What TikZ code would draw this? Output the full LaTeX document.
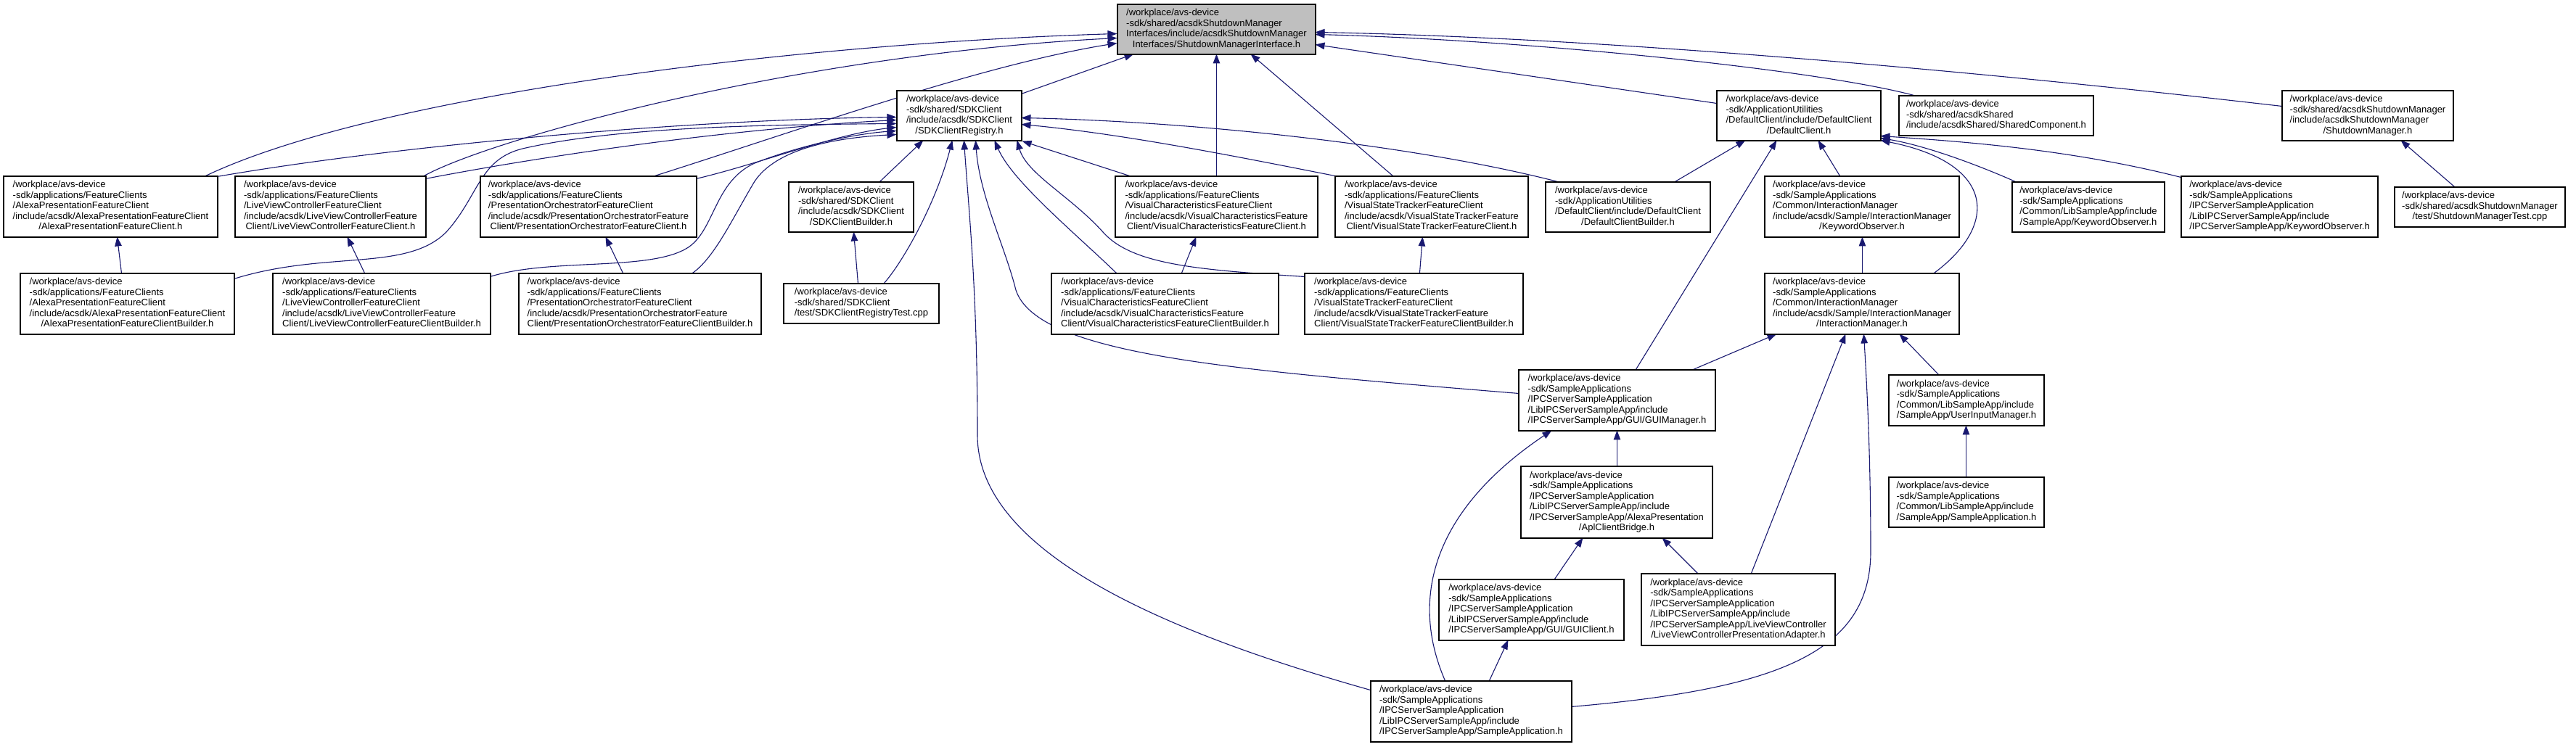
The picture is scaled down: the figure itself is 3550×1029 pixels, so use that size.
\documentclass[tikz,border=0pt]{standalone}
\usepackage{fontspec}
\setmainfont{Liberation Sans}
\usetikzlibrary{arrows.meta}
\pgfdeclarelayer{bg}
\pgfsetlayers{bg,main}
\definecolor{edgeblue}{HTML}{191970}
\definecolor{rootgray}{HTML}{BFBFBF}
\newcommand{\ctrline}[1]{\multicolumn{1}{@{}c@{}}{#1}}
\newcommand{\flines}[1]{\begin{tabular}{@{}l@{}}#1\end{tabular}}
\begin{document}
\begin{tikzpicture}[x=1pt,y=-1pt,
  filebox/.style={draw=black,line width=1.1pt,fill=white,inner sep=0pt,font=\fontsize{13}{14.5}\selectfont},
  incl/.style={draw=edgeblue,line width=1.1pt,-{Triangle[length=13pt,width=9.5pt]}}]
\useasboundingbox (0,0) rectangle (3550,1029);
% ---------------- nodes ----------------
\node[filebox,fill=rootgray,minimum width=273,minimum height=69] (T) at (1676.5,40.5) {\flines{/workplace/avs-device\\-sdk/shared/acsdkShutdownManager\\Interfaces/include/acsdkShutdownManager\\\ctrline{Interfaces/ShutdownManagerInterface.h}}};
\node[filebox,minimum width=172,minimum height=69] (R) at (1322,159.5) {\flines{/workplace/avs-device\\-sdk/shared/SDKClient\\/include/acsdk/SDKClient\\\ctrline{/SDKClientRegistry.h}}};
\node[filebox,minimum width=226,minimum height=69] (DC) at (2479,159.5) {\flines{/workplace/avs-device\\-sdk/ApplicationUtilities\\/DefaultClient/include/DefaultClient\\\ctrline{/DefaultClient.h}}};
\node[filebox,minimum width=268,minimum height=55] (SC) at (2751,159.5) {\flines{/workplace/avs-device\\-sdk/shared/acsdkShared\\\ctrline{/include/acsdkShared/SharedComponent.h}}};
\node[filebox,minimum width=236,minimum height=69] (SM) at (3263,159.5) {\flines{/workplace/avs-device\\-sdk/shared/acsdkShutdownManager\\/include/acsdkShutdownManager\\\ctrline{/ShutdownManager.h}}};
\node[filebox,minimum width=295,minimum height=84] (AFC) at (152.5,285) {\flines{/workplace/avs-device\\-sdk/applications/FeatureClients\\/AlexaPresentationFeatureClient\\/include/acsdk/AlexaPresentationFeatureClient\\\ctrline{/AlexaPresentationFeatureClient.h}}};
\node[filebox,minimum width=263,minimum height=84] (LFC) at (455.5,285) {\flines{/workplace/avs-device\\-sdk/applications/FeatureClients\\/LiveViewControllerFeatureClient\\/include/acsdk/LiveViewControllerFeature\\\ctrline{Client/LiveViewControllerFeatureClient.h}}};
\node[filebox,minimum width=298,minimum height=84] (PFC) at (811,285) {\flines{/workplace/avs-device\\-sdk/applications/FeatureClients\\/PresentationOrchestratorFeatureClient\\/include/acsdk/PresentationOrchestratorFeature\\\ctrline{Client/PresentationOrchestratorFeatureClient.h}}};
\node[filebox,minimum width=172,minimum height=69] (SB) at (1173,285.5) {\flines{/workplace/avs-device\\-sdk/shared/SDKClient\\/include/acsdk/SDKClient\\\ctrline{/SDKClientBuilder.h}}};
\node[filebox,minimum width=279,minimum height=84] (VCF) at (1676.5,285) {\flines{/workplace/avs-device\\-sdk/applications/FeatureClients\\/VisualCharacteristicsFeatureClient\\/include/acsdk/VisualCharacteristicsFeature\\\ctrline{Client/VisualCharacteristicsFeatureClient.h}}};
\node[filebox,minimum width=266,minimum height=84] (VSF) at (1973,285) {\flines{/workplace/avs-device\\-sdk/applications/FeatureClients\\/VisualStateTrackerFeatureClient\\/include/acsdk/VisualStateTrackerFeature\\\ctrline{Client/VisualStateTrackerFeatureClient.h}}};
\node[filebox,minimum width=227,minimum height=69] (DCB) at (2243.5,285.5) {\flines{/workplace/avs-device\\-sdk/ApplicationUtilities\\/DefaultClient/include/DefaultClient\\\ctrline{/DefaultClientBuilder.h}}};
\node[filebox,minimum width=268,minimum height=84] (KOI) at (2566,285) {\flines{/workplace/avs-device\\-sdk/SampleApplications\\/Common/InteractionManager\\/include/acsdk/Sample/InteractionManager\\\ctrline{/KeywordObserver.h}}};
\node[filebox,minimum width=210,minimum height=69] (KOL) at (2878,285.5) {\flines{/workplace/avs-device\\-sdk/SampleApplications\\/Common/LibSampleApp/include\\\ctrline{/SampleApp/KeywordObserver.h}}};
\node[filebox,minimum width=271,minimum height=84] (KOP) at (3141.5,285) {\flines{/workplace/avs-device\\-sdk/SampleApplications\\/IPCServerSampleApplication\\/LibIPCServerSampleApp/include\\\ctrline{/IPCServerSampleApp/KeywordObserver.h}}};
\node[filebox,minimum width=235,minimum height=55] (SMT) at (3417.5,285.5) {\flines{/workplace/avs-device\\-sdk/shared/acsdkShutdownManager\\\ctrline{/test/ShutdownManagerTest.cpp}}};
\node[filebox,minimum width=295,minimum height=84] (AFB) at (175.5,419) {\flines{/workplace/avs-device\\-sdk/applications/FeatureClients\\/AlexaPresentationFeatureClient\\/include/acsdk/AlexaPresentationFeatureClient\\\ctrline{/AlexaPresentationFeatureClientBuilder.h}}};
\node[filebox,minimum width=300,minimum height=84] (LFB) at (526,419) {\flines{/workplace/avs-device\\-sdk/applications/FeatureClients\\/LiveViewControllerFeatureClient\\/include/acsdk/LiveViewControllerFeature\\\ctrline{Client/LiveViewControllerFeatureClientBuilder.h}}};
\node[filebox,minimum width=334,minimum height=84] (PFB) at (882,419) {\flines{/workplace/avs-device\\-sdk/applications/FeatureClients\\/PresentationOrchestratorFeatureClient\\/include/acsdk/PresentationOrchestratorFeature\\\ctrline{Client/PresentationOrchestratorFeatureClientBuilder.h}}};
\node[filebox,minimum width=214,minimum height=55] (RT) at (1187,418.5) {\flines{/workplace/avs-device\\-sdk/shared/SDKClient\\\ctrline{/test/SDKClientRegistryTest.cpp}}};
\node[filebox,minimum width=313,minimum height=84] (VCB) at (1605.5,419) {\flines{/workplace/avs-device\\-sdk/applications/FeatureClients\\/VisualCharacteristicsFeatureClient\\/include/acsdk/VisualCharacteristicsFeature\\\ctrline{Client/VisualCharacteristicsFeatureClientBuilder.h}}};
\node[filebox,minimum width=301,minimum height=84] (VSB) at (1948.5,419) {\flines{/workplace/avs-device\\-sdk/applications/FeatureClients\\/VisualStateTrackerFeatureClient\\/include/acsdk/VisualStateTrackerFeature\\\ctrline{Client/VisualStateTrackerFeatureClientBuilder.h}}};
\node[filebox,minimum width=268,minimum height=84] (IM) at (2566,419) {\flines{/workplace/avs-device\\-sdk/SampleApplications\\/Common/InteractionManager\\/include/acsdk/Sample/InteractionManager\\\ctrline{/InteractionManager.h}}};
\node[filebox,minimum width=271,minimum height=84] (GM) at (2228.5,552) {\flines{/workplace/avs-device\\-sdk/SampleApplications\\/IPCServerSampleApplication\\/LibIPCServerSampleApp/include\\\ctrline{/IPCServerSampleApp/GUI/GUIManager.h}}};
\node[filebox,minimum width=214,minimum height=70] (UIM) at (2710,552) {\flines{/workplace/avs-device\\-sdk/SampleApplications\\/Common/LibSampleApp/include\\\ctrline{/SampleApp/UserInputManager.h}}};
\node[filebox,minimum width=214,minimum height=69] (LSA) at (2710,692.5) {\flines{/workplace/avs-device\\-sdk/SampleApplications\\/Common/LibSampleApp/include\\\ctrline{/SampleApp/SampleApplication.h}}};
\node[filebox,minimum width=264,minimum height=99] (AB) at (2228,692.5) {\flines{/workplace/avs-device\\-sdk/SampleApplications\\/IPCServerSampleApplication\\/LibIPCServerSampleApp/include\\/IPCServerSampleApp/AlexaPresentation\\\ctrline{/AplClientBridge.h}}};
\node[filebox,minimum width=255,minimum height=84] (GC) at (2110.5,841) {\flines{/workplace/avs-device\\-sdk/SampleApplications\\/IPCServerSampleApplication\\/LibIPCServerSampleApp/include\\\ctrline{/IPCServerSampleApp/GUI/GUIClient.h}}};
\node[filebox,minimum width=267,minimum height=99] (LVA) at (2395.5,840.5) {\flines{/workplace/avs-device\\-sdk/SampleApplications\\/IPCServerSampleApplication\\/LibIPCServerSampleApp/include\\/IPCServerSampleApp/LiveViewController\\\ctrline{/LiveViewControllerPresentationAdapter.h}}};
\node[filebox,minimum width=277,minimum height=84] (SA) at (2027.5,981) {\flines{/workplace/avs-device\\-sdk/SampleApplications\\/IPCServerSampleApplication\\/LibIPCServerSampleApp/include\\\ctrline{/IPCServerSampleApp/SampleApplication.h}}};
% ---------------- edges ----------------
\begin{pgfonlayer}{bg}
\fill[white] (0,0) rectangle (3550,1029);
% into T
\draw[incl] ([shift={(279,0)}]AFC.north west) .. controls (520,130) and (1100,60) .. ([shift={(0,41)}]T.north west);
\draw[incl] ([shift={(261,0)}]LFC.north west) .. controls (680,190) and (1100,75) .. ([shift={(0,47)}]T.north west);
\draw[incl] ([shift={(241,0)}]PFC.north west) .. controls (1100,180) and (1350,90) .. ([shift={(0,54)}]T.north west);
\draw[incl] ([shift={(172,5)}]R.north west) -- ([shift={(23,69)}]T.north west);
\draw[incl] ([shift={(140,0)}]VCF.north west) -- ([shift={(137,69)}]T.north west);
\draw[incl] ([shift={(80,0)}]VSF.north west) -- ([shift={(184,69)}]T.north west);
\draw[incl] ([shift={(0,18)}]DC.north west) -- ([shift={(273,56)}]T.north west);
\draw[incl] ([shift={(21,0)}]SC.north west) .. controls (2500,95) and (2100,55) .. ([shift={(273,42)}]T.north west);
\draw[incl] ([shift={(0,22)}]SM.north west) .. controls (2700,95) and (2200,52) .. ([shift={(273,39)}]T.north west);
% into R
\draw[incl] ([shift={(295,1)}]AFC.north west) .. controls (550,200) and (950,165) .. ([shift={(0,37)}]R.north west);
\draw[incl] ([shift={(263,4)}]LFC.north west) .. controls (750,215) and (1000,178) .. ([shift={(0,41)}]R.north west);
\draw[incl] ([shift={(295,8)}]AFB.north west) .. controls (450,345) and (560,375) .. (615,320) .. controls (660,270) and (660,220) .. (720,205) .. controls (850,175) and (1050,172) .. ([shift={(0,46)}]R.north west);
\draw[incl] ([shift={(298,4)}]PFC.north west) .. controls (1050,225) and (1150,185) .. ([shift={(0,51)}]R.north west);
\draw[incl] ([shift={(300,5)}]LFB.north west) .. controls (760,355) and (900,375) .. (950,340) .. controls (985,315) and (985,250) .. (1040,225) .. controls (1090,205) and (1170,185) .. ([shift={(0,56)}]R.north west);
\draw[incl] ([shift={(240,0)}]PFB.north west) .. controls (985,355) and (1010,300) .. (1040,250) .. controls (1070,205) and (1150,190) .. ([shift={(0,61)}]R.north west);
\draw[incl] ([shift={(126,0)}]SB.north west) -- ([shift={(37,69)}]R.north west);
\draw[incl] ([shift={(139,0)}]RT.north west) .. controls (1245,360) and (1290,280) .. ([shift={(77,69)}]R.north west);
\draw[incl] ([shift={(0,13)}]SA.north west) .. controls (1600,870) and (1347,760) .. (1347,600) .. controls (1347,400) and (1335,290) .. ([shift={(93,69)}]R.north west);
\draw[incl] ([shift={(0,33)}]GM.north west) .. controls (1700,510) and (1430,490) .. (1400,400) .. controls (1385,340) and (1350,270) .. ([shift={(109,69)}]R.north west);
\draw[incl] ([shift={(90,0)}]VCB.north west) .. controls (1480,320) and (1395,250) .. ([shift={(135,69)}]R.north west);
\draw[incl] ([shift={(0,5)}]VSB.north west) .. controls (1650,372) and (1560,365) .. (1520,320) .. controls (1475,270) and (1415,240) .. ([shift={(166,69)}]R.north west);
\draw[incl] ([shift={(17,0)}]DCB.north west) .. controls (1950,200) and (1650,168) .. ([shift={(172,38)}]R.north west);
\draw[incl] (VSF.north west) .. controls (1700,215) and (1550,185) .. ([shift={(172,47)}]R.north west);
\draw[incl] ([shift={(20,0)}]VCF.north west) -- (R.south east);
% into DC
\draw[incl] ([shift={(179,0)}]DCB.north west) -- ([shift={(40,69)}]DC.north west);
\draw[incl] ([shift={(162,0)}]GM.north west) -- ([shift={(83,69)}]DC.north west);
\draw[incl] ([shift={(104,0)}]KOI.north west) -- ([shift={(140,69)}]DC.north west);
\draw[incl] ([shift={(234,0)}]IM.north west) .. controls (2755,310) and (2750,225) .. ([shift={(226,69)}]DC.north west);
\draw[incl] ([shift={(5,0)}]KOL.north west) .. controls (2720,225) and (2650,200) .. ([shift={(226,66)}]DC.north west);
\draw[incl] ([shift={(0,2)}]KOP.north west) .. controls (2850,205) and (2700,195) .. ([shift={(226,63)}]DC.north west);
% interaction manager and below
\draw[incl] ([shift={(135,0)}]IM.north west) -- ([shift={(135,84)}]KOI.north west);
\draw[incl] ([shift={(241,0)}]GM.north west) -- ([shift={(17,84)}]IM.north west);
\draw[incl] ([shift={(152,0)}]LVA.north west) -- ([shift={(112,84)}]IM.north west);
\draw[incl] ([shift={(277,36)}]SA.north west) .. controls (2450,950) and (2578,900) .. (2578,760) .. controls (2578,620) and (2572,520) .. ([shift={(137,84)}]IM.north west);
\draw[incl] ([shift={(69,0)}]UIM.north west) -- ([shift={(186,84)}]IM.north west);
\draw[incl] ([shift={(133,0)}]AB.north west) -- ([shift={(136,84)}]GM.north west);
\draw[incl] ([shift={(103,0)}]SA.north west) .. controls (1940,820) and (1980,700) .. ([shift={(46,84)}]GM.north west);
\draw[incl] ([shift={(160,0)}]GC.north west) -- ([shift={(86,99)}]AB.north west);
\draw[incl] ([shift={(78,0)}]LVA.north west) -- ([shift={(195,99)}]AB.north west);
\draw[incl] ([shift={(164,0)}]SA.north west) -- ([shift={(96,84)}]GC.north west);
\draw[incl] ([shift={(107,0)}]LSA.north west) -- ([shift={(107,70)}]UIM.north west);
\draw[incl] ([shift={(83,0)}]SMT.north west) -- ([shift={(164,69)}]SM.north west);
\draw[incl] ([shift={(103,0)}]RT.north west) -- ([shift={(90,69)}]SB.north west);
\draw[incl] ([shift={(140,0)}]AFB.north west) -- ([shift={(157,84)}]AFC.north west);
\draw[incl] ([shift={(127,0)}]LFB.north west) -- ([shift={(155,84)}]LFC.north west);
\draw[incl] ([shift={(144,0)}]PFB.north west) -- ([shift={(173,84)}]PFC.north west);
\draw[incl] ([shift={(180,0)}]VCB.north west) -- ([shift={(112,84)}]VCF.north west);
\draw[incl] ([shift={(159,0)}]VSB.north west) -- ([shift={(121,84)}]VSF.north west);
\end{pgfonlayer}
\end{tikzpicture}
\end{document}
